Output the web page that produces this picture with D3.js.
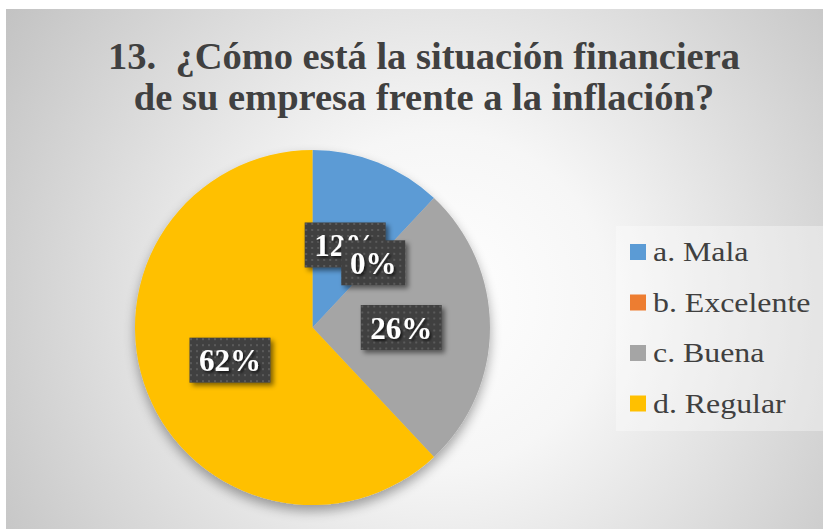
<!DOCTYPE html>
<html><head><meta charset="utf-8">
<script src="https://cdn.jsdelivr.net/npm/d3@7"></script>
</head><body style="margin:0;padding:0">
<script>
const categories = ["a. Mala", "b. Excelente", "c. Buena", "d. Regular"];
const values = [12, 0, 26, 62];
const labels = ["12%", "0%", "26%", "62%"];
const colors = ["#5b9bd5", "#ed7d31", "#a5a5a5", "#ffc000"];
const titleLines = ["13.\u00a0 ¿Cómo está la situación financiera", "de su empresa frente a la inflación?"];

const W = 827, H = 529;
const svg = d3.select("body").append("svg").attr("width", W).attr("height", H).style("display", "block")
  .attr("font-family", "Liberation Serif").style("font-family", '"Liberation Serif"');
const defs = svg.append("defs");

const rg = defs.append("radialGradient").attr("id", "bg")
  .attr("gradientUnits", "userSpaceOnUse").attr("cx", 440).attr("cy", 300).attr("r", 560);
rg.append("stop").attr("offset", "0%").attr("stop-color", "#ffffff");
rg.append("stop").attr("offset", "30%").attr("stop-color", "#f6f6f6");
rg.append("stop").attr("offset", "100%").attr("stop-color", "#bdbdbd");

const pat = defs.append("pattern").attr("id", "dots").attr("patternUnits", "userSpaceOnUse")
  .attr("width", 6).attr("height", 6);
pat.append("rect").attr("width", 6).attr("height", 6).attr("fill", "#404040");
pat.append("rect").attr("x", 2).attr("y", 2).attr("width", 2).attr("height", 2).attr("fill", "#5a5a5a");

const sh = defs.append("filter").attr("id", "shadow").attr("x", "-20%").attr("y", "-20%").attr("width", "150%").attr("height", "150%");
sh.append("feGaussianBlur").attr("in", "SourceAlpha").attr("stdDeviation", 2.5);
sh.append("feOffset").attr("dx", 3).attr("dy", 3).attr("result", "b");
sh.append("feComponentTransfer").append("feFuncA").attr("type", "linear").attr("slope", 0.5);
const m = sh.append("feMerge"); m.append("feMergeNode"); m.append("feMergeNode").attr("in", "SourceGraphic");

const psh = defs.append("filter").attr("id", "pshadow").attr("x", "-20%").attr("y", "-20%").attr("width", "140%").attr("height", "140%");
psh.append("feGaussianBlur").attr("in", "SourceAlpha").attr("stdDeviation", 6);
psh.append("feOffset").attr("dx", 0).attr("dy", 6);
psh.append("feComponentTransfer").append("feFuncA").attr("type", "linear").attr("slope", 0.35);
const pm = psh.append("feMerge"); pm.append("feMergeNode"); pm.append("feMergeNode").attr("in", "SourceGraphic");

const tsh = defs.append("filter").attr("id", "tshadow");
tsh.append("feGaussianBlur").attr("in", "SourceAlpha").attr("stdDeviation", 1);
tsh.append("feOffset").attr("dx", 2).attr("dy", 2);
tsh.append("feComponentTransfer").append("feFuncA").attr("type", "linear").attr("slope", 0.6);
const tm = tsh.append("feMerge"); tm.append("feMergeNode"); tm.append("feMergeNode").attr("in", "SourceGraphic");

svg.append("rect").attr("x", 6).attr("y", 9).attr("width", 817).attr("height", 520).attr("fill", "url(#bg)");

const title = svg.append("text").attr("text-anchor", "middle")
  .attr("font-weight", "bold").attr("font-size", 38.5).attr("fill", "#404040");
titleLines.forEach((t, i) => title.append("tspan").attr("x", 424).attr("y", 69 + i * 41).text(t));

const cx = 312.5, cy = 327.5, R = 177.5;
const pie = d3.pie().sort(null).value(d => d)(values);
const arc = d3.arc().innerRadius(0).outerRadius(R);
const g = svg.append("g").attr("transform", `translate(${cx},${cy})`);
const pg = g.append("g").attr("filter", "url(#pshadow)");
pg.selectAll("path").data(pie).join("path").attr("d", arc).attr("fill", (d, i) => colors[i]);

const labelArc = d3.arc().innerRadius(R * 0.5).outerRadius(R * 0.5);
const lg = g.append("g");
pie.forEach((d, i) => {
  const [x, y] = labelArc.centroid(d);
  const bw = labels[i].length === 2 ? 64 : 81, bh = 45;
  const gg = lg.append("g").attr("transform", `translate(${x},${y})`);
  gg.append("rect").attr("x", -bw / 2).attr("y", -bh / 2).attr("width", bw).attr("height", bh)
    .attr("fill", "url(#dots)").attr("filter", "url(#shadow)");
  gg.append("text").attr("text-anchor", "middle").attr("y", 11)
    .attr("font-weight", "bold").attr("font-size", 31)
    .attr("fill", "#ffffff").attr("filter", "url(#tshadow)").text(labels[i]);
});

const leg = svg.append("g");
leg.append("rect").attr("x", 616).attr("y", 226).attr("width", 207).attr("height", 205)
  .attr("fill", "#ffffff").attr("fill-opacity", 0.35);
categories.forEach((c, i) => {
  const y = 252 + i * 50.5;
  leg.append("rect").attr("x", 630).attr("y", y - 8).attr("width", 16).attr("height", 16).attr("fill", colors[i]);
  leg.append("text").attr("transform", `translate(653,${y + 9}) scale(1.18,1)`)
    .attr("font-size", 27).attr("fill", "#404040").text(c);
});
</script>
</body></html>
